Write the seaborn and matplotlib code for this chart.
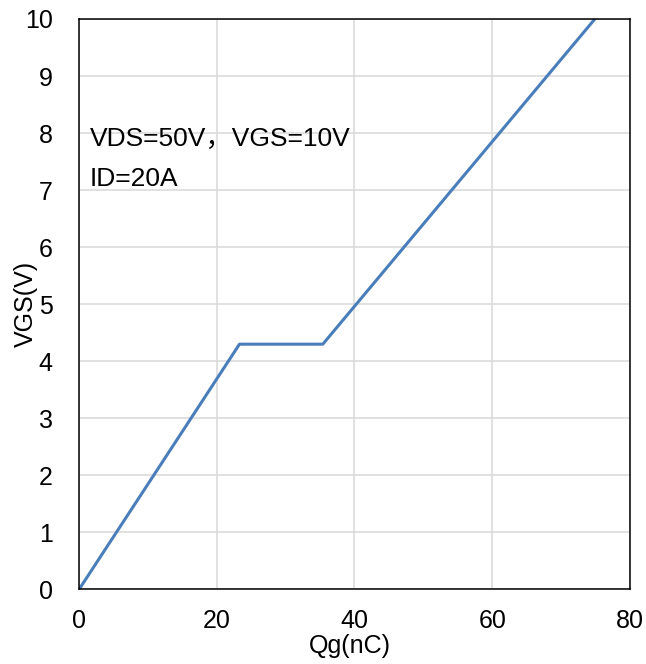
import matplotlib
matplotlib.use("Agg")
import matplotlib.pyplot as plt
import seaborn as sns
import pandas as pd

# Gate charge curve: VGS versus Qg
qg_nc = [0.0, 23.3, 35.4, 74.9]
vgs_v = [0.0, 4.3, 4.3, 10.0]
x_ticks = [0, 20, 40, 60, 80]
y_ticks = list(range(0, 11))
condition_lines = ["VDS=50V，VGS=10V", "ID=20A"]

sns.set_theme(style="whitegrid")
plt.rcParams["font.family"] = ["Liberation Sans", "Noto Sans CJK SC", "DejaVu Sans"]

df = pd.DataFrame({"Qg": qg_nc, "VGS": vgs_v})

fig = plt.figure(figsize=(6.46, 6.64), dpi=100)
ax = fig.add_axes([0.1223, 0.1122, 0.9752 - 0.1223, 0.9714 - 0.1122])

sns.lineplot(data=df, x="Qg", y="VGS", ax=ax, color="#4a7ebb", linewidth=2.2,
             sort=False, estimator=None)

ax.set_xlim(0, 80)
ax.set_ylim(0, 10)
ax.set_xticks(x_ticks)
ax.set_yticks(y_ticks)
ax.grid(True, color="#d9d9d9", linewidth=1.1)
for s in ax.spines.values():
    s.set_visible(True)
    s.set_color("black")
    s.set_linewidth(1.1)
ax.tick_params(axis="both", labelsize=18, colors="black", length=0)
ax.tick_params(axis="x", pad=14)
ax.tick_params(axis="y", pad=19)

ax.set_xlabel("Qg(nC)", fontsize=18, color="black")
ax.set_ylabel("VGS(V)", fontsize=18, color="black")
ax.xaxis.set_label_coords(0.492, -0.078)
ax.yaxis.set_label_coords(-0.0744, 0.5)

ax.text(1.6, 7.9, condition_lines[0], fontsize=19, va="center", ha="left",
        color="black")
ax.text(1.6, 7.2, condition_lines[1], fontsize=19, va="center", ha="left",
        color="black")

fig.savefig("out.png", dpi=100)
